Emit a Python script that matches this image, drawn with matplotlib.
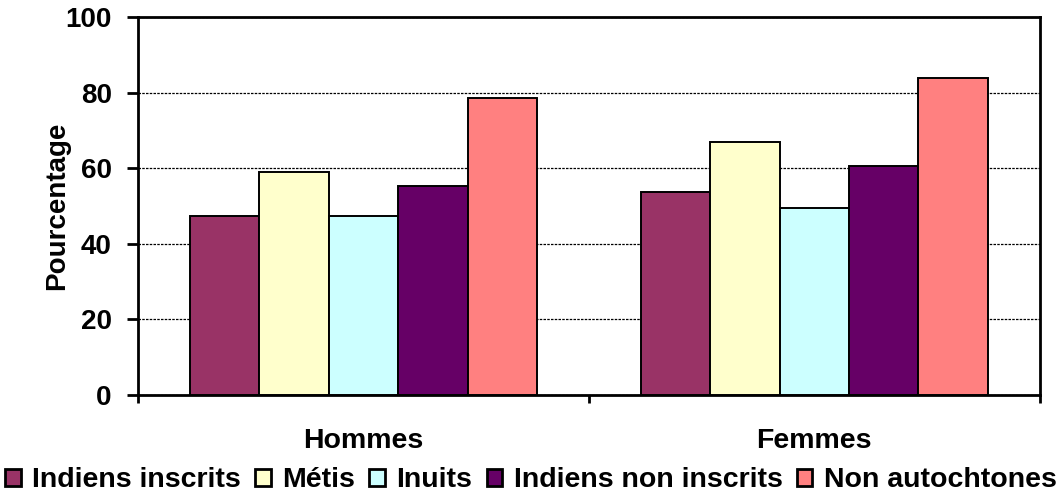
import matplotlib
matplotlib.use("Agg")
import matplotlib.pyplot as plt
import numpy as np

# === Données ===
groupes = ["Hommes", "Femmes"]
series = ["Indiens inscrits", "Métis", "Inuits", "Indiens non inscrits", "Non autochtones"]
indiens_inscrits = [47.4, 53.6]
metis = [58.9, 66.8]
inuits = [47.3, 49.4]
indiens_non_inscrits = [55.2, 60.5]
non_autochtones = [78.5, 83.8]
couleurs = ["#993366", "#FFFFCC", "#CCFFFF", "#660066", "#FF8080"]

valeurs = [indiens_inscrits, metis, inuits, indiens_non_inscrits, non_autochtones]

plt.rcParams["font.family"] = ["Liberation Sans", "DejaVu Sans"]
plt.rcParams["font.weight"] = "bold"

fig = plt.figure(figsize=(10.62, 4.95), dpi=100)
ax = fig.add_axes([0.130, 0.202, 0.849, 0.7637])

x = np.arange(len(groupes))
larg = 0.154
for i, (nom, vals, c) in enumerate(zip(series, valeurs, couleurs)):
    ax.bar(x + (i - 2) * larg, vals, width=larg, color=c, edgecolor="black",
           linewidth=1.4, label=nom, zorder=3)

ax.set_xlim(-0.5, 1.5)
ax.set_ylim(0, 100)
ax.set_yticks([0, 20, 40, 60, 80, 100])
ax.yaxis.grid(True, linestyle=(0, (2, 1)), color="black", linewidth=0.9, zorder=0)

# ticks aux limites des catégories, libellés au centre
ax.set_xticks([-0.5, 0.5, 1.5])
ax.set_xticklabels([])
ax.set_xticks(x, minor=True)
ax.set_xticklabels(groupes, minor=True, fontsize=20.5, fontweight="bold")
ax.tick_params(axis="x", which="major", direction="out", length=6, width=2)
ax.tick_params(axis="x", which="minor", length=0, pad=24)
ax.tick_params(axis="y", direction="out", length=8, width=2, pad=11, labelsize=20)

for sp in ax.spines.values():
    sp.set_linewidth(2)
    sp.set_color("black")

ax.set_ylabel("Pourcentage", fontsize=20, fontweight="bold")
ax.yaxis.set_label_coords(-0.075, 0.5)

leg = fig.legend(loc="center", bbox_to_anchor=(0.5, 0.03), ncol=5, frameon=False,
                 fontsize=20.5, handlelength=0.55, handleheight=0.55, handletextpad=0.4,
                 columnspacing=0.5, borderaxespad=0)
for h in leg.legend_handles:
    h.set_linewidth(2)

fig.savefig("out.png", dpi=100)
